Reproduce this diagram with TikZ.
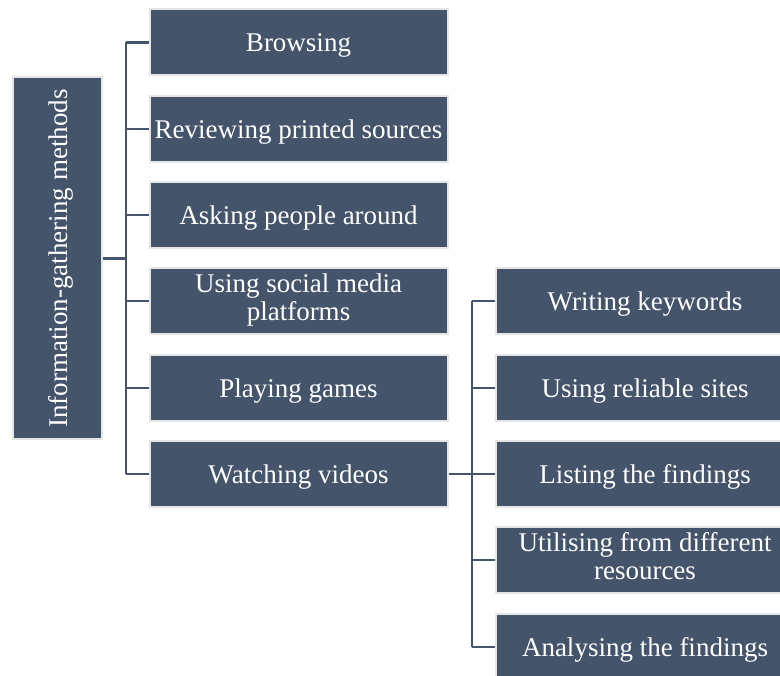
\documentclass[tikz,border=0pt]{standalone}
\usepackage{fontspec}
\setmainfont{Liberation Serif}
\definecolor{boxfill}{HTML}{44546A}
\definecolor{boxedge}{HTML}{E7E6E6}
\begin{document}
\begin{tikzpicture}[x=1pt,y=-1pt,
  box/.style={draw=boxedge, line width=2pt, fill=boxfill, text=white,
    minimum width=298pt, minimum height=66pt, inner sep=0pt,
    align=center, font=\fontsize{27}{28}\selectfont,
    text height=19pt, text depth=0pt},
  twobox/.style={box, text height=39pt, text depth=0pt},
  rootbox/.style={box, minimum width=362pt, minimum height=89pt, rotate=90,
    text height=20pt},
  conn/.style={draw=boxfill, line width=2.2pt}]
\useasboundingbox (0,0) rectangle (780,676);
\fill[white] (0,0) rectangle (780,676);
\clip (0,0) rectangle (780,676);

\node[rootbox] (root) at (57,258.5) {Information-gathering methods};

\node[box] (a1) at (298.5,42.5) {Browsing};
\node[box] (a2) at (298.5,128.8) {Reviewing printed sources};
\node[box] (a3) at (298.5,215.1) {Asking people around};
\node[twobox] (a4) at (298.5,301.4) {Using social media\\platforms};
\node[box] (a5) at (298.5,387.7) {Playing games};
\node[box] (a6) at (298.5,474) {Watching videos};

\node[box] (b1) at (645,301.4) {Writing keywords};
\node[box] (b2) at (645,387.7) {Using reliable sites};
\node[box] (b3) at (645,474) {Listing the findings};
\node[twobox] (b4) at (645,560.3) {Utilising from different\\resources};
\node[box] (b5) at (645,646.6) {Analysing the findings};

\coordinate (bus1) at (126,0);
\coordinate (bus2) at (472,0);

\draw[conn] (root.south) -- (root.south -| bus1);
\draw[conn] (bus1 |- a1.west) -- (bus1 |- a6.west);
\foreach \n in {a1,a2,a3,a4,a5,a6} {
  \draw[conn] (bus1 |- \n.west) -- (\n.west);
}
\draw[conn] (a6.east) -- (b3.west);
\draw[conn] (bus2 |- b1.west) -- (bus2 |- b5.west);
\foreach \n in {b1,b2,b4,b5} {
  \draw[conn] (bus2 |- \n.west) -- (\n.west);
}
\end{tikzpicture}
\end{document}
